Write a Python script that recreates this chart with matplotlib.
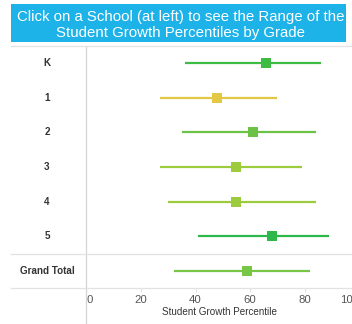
import matplotlib
matplotlib.use("Agg")
import matplotlib.pyplot as plt
from matplotlib.patches import Rectangle
from matplotlib.lines import Line2D

plt.rcParams['font.family'] = ['Liberation Sans', 'DejaVu Sans']

# Student growth percentile ranges by grade
grades = ["K", "1", "2", "3", "4", "5", "Grand Total"]
low = [36, 27, 35, 27, 30, 41, 32]
median = [66, 48, 61, 55, 55, 68, 59]
high = [86, 70, 84, 79, 84, 89, 82]
colors = ["#3dbb45", "#e3c845", "#6cc245", "#9ccb3e", "#9ccb3e", "#2cb84a", "#77c646"]
xticks = [0, 20, 40, 60, 80, 100]

W, H = 352, 324
fig = plt.figure(figsize=(W / 100, H / 100), dpi=100)
fig.patch.set_facecolor("white")

def fx(px):
    return px / W

def fy(py):
    return 1 - py / H

# Title banner
fig.patches.append(Rectangle((fx(11), fy(42)), fx(346) - fx(11), fy(4) - fy(42),
                             transform=fig.transFigure, facecolor="#1db2e8",
                             edgecolor="none", zorder=0))
fig.text(fx(181), fy(16.5), "Click on a School (at left) to see the Range of the",
         color="white", fontsize=10.8, ha="center", va="center")
fig.text(fx(181), fy(32.5), "Student Growth Percentiles by Grade",
         color="white", fontsize=10.8, ha="center", va="center")

# Plot area: 0..100 spans 2.73 px per unit starting at the divider
x0_px, unit_px = 86.3, 2.73
top_px, bot_px = 46, 288
ax = fig.add_axes([fx(x0_px), fy(bot_px), (100 * unit_px) / W, (bot_px - top_px) / H])
ax.set_xlim(0, 100)
ax.set_ylim(len(grades) - 0.5, -0.5)
ax.set_facecolor("none")
for s in ax.spines.values():
    s.set_visible(False)
ax.set_yticks([])
ax.set_xticks(xticks)
ax.set_xticklabels([str(t) for t in xticks])
ax.tick_params(axis="x", length=3, color="#e2e2e2", labelsize=8.2,
               labelcolor="#555555", pad=2)
tl = ax.get_xticklabels()
tl[0].set_ha("left")
tl[-1].set_ha("right")

for i, g in enumerate(grades):
    ax.plot([low[i], high[i]], [i, i], color=colors[i], lw=1.6,
            solid_capstyle="butt", zorder=2)
    ax.plot([median[i]], [i], marker="s", ms=6.6, color=colors[i],
            markeredgewidth=0, zorder=3)
    ax.text(-0.144, i, g, transform=ax.get_yaxis_transform(), ha="center",
            va="center", fontsize=7.1, fontweight="bold", color="#333333")

# Divider and separator lines
fig.lines.append(Line2D([fx(x0_px), fx(x0_px)], [fy(46), 0], transform=fig.transFigure,
                        color="#d4d4d4", lw=0.9))
for py in (46, 254, 288):
    fig.lines.append(Line2D([fx(11), 1], [fy(py), fy(py)], transform=fig.transFigure,
                            color="#e2e2e2", lw=0.9))

fig.text(fx(219), fy(312), "Student Growth Percentile", ha="center", va="center",
         fontsize=7.1, color="#333333")

fig.savefig("out.png", dpi=100)
